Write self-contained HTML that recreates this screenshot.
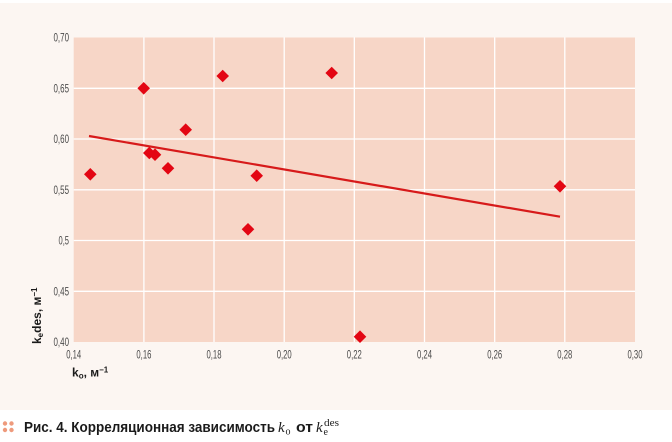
<!DOCTYPE html>
<html><head><meta charset="utf-8"><style>
html,body{margin:0;padding:0;background:#fff;}
svg{display:block;}
</style></head><body>
<svg width="672" height="442" viewBox="0 0 672 442" xmlns="http://www.w3.org/2000/svg">
<rect x="0" y="3" width="672" height="407" fill="#fcf6f2"/>
<rect x="73.7" y="37.5" width="561.3" height="304.5" fill="#f7d6c7"/>
<g stroke="#ffffff" stroke-width="1.3">
<line x1="143.9" y1="37.5" x2="143.9" y2="342"/>
<line x1="214" y1="37.5" x2="214" y2="342"/>
<line x1="284.2" y1="37.5" x2="284.2" y2="342"/>
<line x1="354.3" y1="37.5" x2="354.3" y2="342"/>
<line x1="424.5" y1="37.5" x2="424.5" y2="342"/>
<line x1="494.7" y1="37.5" x2="494.7" y2="342"/>
<line x1="564.8" y1="37.5" x2="564.8" y2="342"/>
<line x1="73.7" y1="88.3" x2="635" y2="88.3"/>
<line x1="73.7" y1="139" x2="635" y2="139"/>
<line x1="73.7" y1="189.8" x2="635" y2="189.8"/>
<line x1="73.7" y1="240.5" x2="635" y2="240.5"/>
<line x1="73.7" y1="291.3" x2="635" y2="291.3"/>
</g>
<line x1="89" y1="136" x2="560" y2="216.7" stroke="#d71a1a" stroke-width="2.2"/>
<g fill="#e30613">
<polygon points="90.3,168 96.6,174.3 90.3,180.6 84,174.3"/>
<polygon points="143.7,82 150,88.3 143.7,94.6 137.4,88.3"/>
<polygon points="222.7,69.7 229,76 222.7,82.3 216.4,76"/>
<polygon points="331.7,66.7 338,73 331.7,79.3 325.4,73"/>
<polygon points="185.7,123.4 192,129.7 185.7,136 179.4,129.7"/>
<polygon points="149.3,146.7 155.6,153 149.3,159.3 143,153"/>
<polygon points="155,148.4 161.3,154.7 155,161 148.7,154.7"/>
<polygon points="168,162 174.3,168.3 168,174.6 161.7,168.3"/>
<polygon points="256.7,169.4 263,175.7 256.7,182 250.4,175.7"/>
<polygon points="248,223 254.3,229.3 248,235.6 241.7,229.3"/>
<polygon points="360,330.4 366.3,336.7 360,343 353.7,336.7"/>
<polygon points="560,180 566.3,186.3 560,192.6 553.7,186.3"/>
</g>
<g font-family="Liberation Sans Narrow, Liberation Sans, sans-serif" font-size="12" fill="#4a4a4a">
<g text-anchor="end">
<text x="69" y="41.5" textLength="15.5" lengthAdjust="spacingAndGlyphs">0,70</text>
<text x="69" y="92.3" textLength="15.5" lengthAdjust="spacingAndGlyphs">0,65</text>
<text x="69" y="143" textLength="15.5" lengthAdjust="spacingAndGlyphs">0,60</text>
<text x="69" y="193.8" textLength="15.5" lengthAdjust="spacingAndGlyphs">0,55</text>
<text x="69" y="244.5" textLength="10.5" lengthAdjust="spacingAndGlyphs">0,5</text>
<text x="69" y="295.3" textLength="15.5" lengthAdjust="spacingAndGlyphs">0,45</text>
<text x="69" y="346" textLength="15.5" lengthAdjust="spacingAndGlyphs">0,40</text>
</g>
<g>
<text x="66.2" y="358.5" textLength="15" lengthAdjust="spacingAndGlyphs">0,14</text>
<text x="136.4" y="358.5" textLength="15" lengthAdjust="spacingAndGlyphs">0,16</text>
<text x="206.5" y="358.5" textLength="15" lengthAdjust="spacingAndGlyphs">0,18</text>
<text x="276.7" y="358.5" textLength="15" lengthAdjust="spacingAndGlyphs">0,20</text>
<text x="346.8" y="358.5" textLength="15" lengthAdjust="spacingAndGlyphs">0,22</text>
<text x="417" y="358.5" textLength="15" lengthAdjust="spacingAndGlyphs">0,24</text>
<text x="487.2" y="358.5" textLength="15" lengthAdjust="spacingAndGlyphs">0,26</text>
<text x="557.3" y="358.5" textLength="15" lengthAdjust="spacingAndGlyphs">0,28</text>
<text x="627.5" y="358.5" textLength="15" lengthAdjust="spacingAndGlyphs">0,30</text>
</g>
</g>
<g font-family="Liberation Sans Narrow, Liberation Sans, sans-serif" font-weight="bold" fill="#1a1a1a">
<text transform="translate(41,344) rotate(-90)" font-size="12">k<tspan font-size="8" dy="2">e</tspan><tspan dy="-2">des, м</tspan><tspan font-size="8" dy="-4">−1</tspan></text>
<text x="72" y="376.5" font-size="12">k<tspan font-size="8" dy="2">о</tspan><tspan dy="-2">, м</tspan><tspan font-size="8" dy="-4">−1</tspan></text>
</g>
<g fill="#ee9a7c">
<circle cx="5" cy="423.5" r="2.2"/>
<circle cx="11.5" cy="423.5" r="2.2"/>
<circle cx="5" cy="430" r="2.2"/>
<circle cx="11.5" cy="430" r="2.2"/>
</g>
<g fill="#1a1a1a">
<text x="24" y="432" font-family="Liberation Sans Narrow, Liberation Sans, sans-serif" font-weight="bold" font-size="14.5" textLength="251" lengthAdjust="spacingAndGlyphs">Рис. 4. Корреляционная зависимость</text>
<text x="278" y="432" font-family="Liberation Serif, serif" font-style="italic" font-size="15">k</text>
<text x="285.5" y="434.5" font-family="Liberation Serif, serif" font-size="10">o</text>
<text x="296" y="432" font-family="Liberation Sans Narrow, Liberation Sans, sans-serif" font-weight="bold" font-size="14.5" textLength="17" lengthAdjust="spacingAndGlyphs">от</text>
<text x="316" y="432" font-family="Liberation Serif, serif" font-style="italic" font-size="15">k</text>
<text x="323.5" y="435" font-family="Liberation Serif, serif" font-size="10">e</text>
<text x="324" y="426" font-family="Liberation Serif, serif" font-size="10" textLength="15" lengthAdjust="spacingAndGlyphs">des</text>
</g>
</svg>
</body></html>
